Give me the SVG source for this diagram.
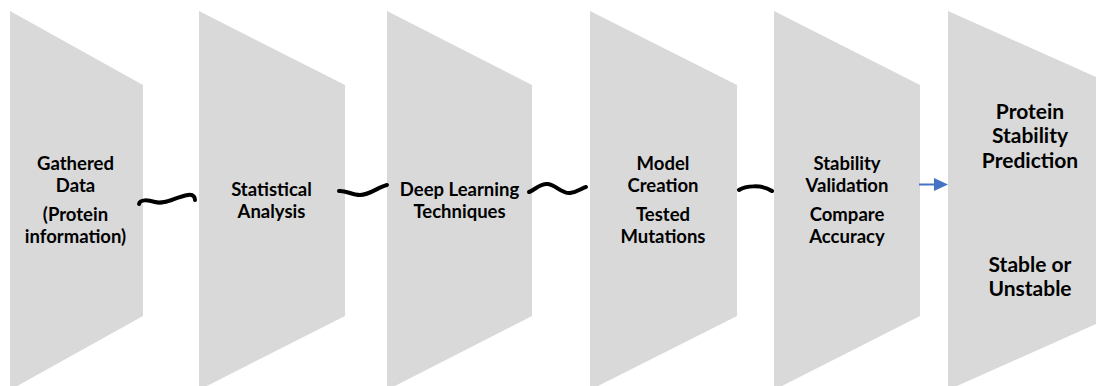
<svg xmlns="http://www.w3.org/2000/svg" width="1096" height="386" viewBox="0 0 1096 386">
<style>
.shape{fill:#D9D9D9;}
.lbl{font-family:Lato,"Open Sans","Liberation Sans",sans-serif;font-weight:700;font-size:18.5px;fill:#000;text-anchor:middle;}
.big{font-size:21px;}
.wave{fill:none;stroke:#000;stroke-width:4;stroke-linecap:round;}
.arrow{fill:none;stroke:#4472C4;stroke-width:2;}
</style>
<rect width="1096" height="386" fill="#fff"/>
<g id="n1"><polygon class="shape" points="10,11 143,85 143,316 10,390"/>
<text class="lbl" x="75.5" y="169.5">Gathered</text><text class="lbl" x="75.5" y="191.5">Data</text>
<text class="lbl" x="75.5" y="221">(Protein</text><text class="lbl" x="75.5" y="243">information)</text></g>
<g id="n2"><polygon class="shape" points="199,11 345,85 345,316 199,390"/>
<text class="lbl" x="271.5" y="195.5">Statistical</text><text class="lbl" x="271.5" y="217.5">Analysis</text></g>
<g id="n3"><polygon class="shape" points="387,11 532,85 532,316 387,390"/>
<text class="lbl" x="459.5" y="195.5">Deep Learning</text><text class="lbl" x="459.5" y="217.5">Techniques</text></g>
<g id="n4"><polygon class="shape" points="590,11 737,85 737,316 590,390"/>
<text class="lbl" x="663" y="169.5">Model</text><text class="lbl" x="663" y="191.5">Creation</text>
<text class="lbl" x="663" y="221">Tested</text><text class="lbl" x="663" y="243">Mutations</text></g>
<g id="n5"><polygon class="shape" points="774,11 920,85 920,316 774,390"/>
<text class="lbl" x="847" y="169.5">Stability</text><text class="lbl" x="847" y="191.5">Validation</text>
<text class="lbl" x="847" y="221">Compare</text><text class="lbl" x="847" y="243">Accuracy</text></g>
<g id="n6"><polygon class="shape" points="948,11 1114,85 1114,316 948,390"/>
<text class="lbl big" x="1030" y="118.5">Protein</text><text class="lbl big" x="1030" y="143">Stability</text><text class="lbl big" x="1030" y="167.5">Prediction</text>
<text class="lbl big" x="1030" y="271.5">Stable or</text><text class="lbl big" x="1030" y="296">Unstable</text></g>
<g id="connectors">
<path class="wave" d="M139,204 C140,199 148,200 155,202 C165,205 175,197 188,195 C194,194 195,198 195,200"/>
<path class="wave" d="M339,191 C345,190 352,195 360,195 C370,195 378,187 387,185"/>
<path class="wave" d="M529,192 C535,190 540,183 548,184 C556,185 562,194 570,193 C578,192 582,188 586,187"/>
<path class="wave" d="M739,190 C745,186 762,184 772,191"/>
<path class="arrow" d="M919,184.5 L935,184.5"/>
<path d="M934,178 L948,184.5 L934,191 z" fill="#4472C4"/>
</g>
</svg>
